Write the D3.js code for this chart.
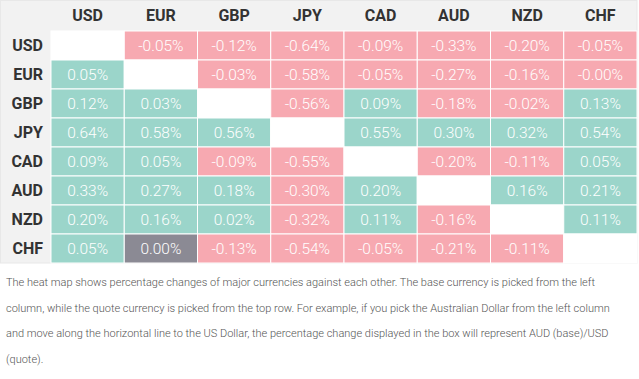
<!DOCTYPE html>
<html>
<head>
<meta charset="utf-8">
<script src="https://cdn.jsdelivr.net/npm/d3@7"></script>
<style>
  body { margin: 0; background: #fff; }
  #note { position: absolute; left: 6px; top: 270px; width: 618px;
    font-family: Roboto, sans-serif; font-weight: 300; font-size: 11px;
    line-height: 25.5px; color: #555; }
</style>
</head>
<body>
<div id="heatmap"></div>
<div id="note">The heat map shows percentage changes of major currencies against each other. The base currency is picked from the left column, while the quote currency is picked from the top row. For example, if you pick the Australian Dollar from the left column and move along the horizontal line to the US Dollar, the percentage change displayed in the box will represent AUD (base)/USD (quote).</div>
<script>
var currencies = ["USD", "EUR", "GBP", "JPY", "CAD", "AUD", "NZD", "CHF"];

// rows = base, columns = quote, null on the diagonal
var values = [
  [null, -0.05, -0.12, -0.64, -0.09, -0.33, -0.20, -0.05],
  [0.05, null, -0.03, -0.58, -0.05, -0.27, -0.16, -0.00],
  [0.12, 0.03, null, -0.56, 0.09, -0.18, -0.02, 0.13],
  [0.64, 0.58, 0.56, null, 0.55, 0.30, 0.32, 0.54],
  [0.09, 0.05, -0.09, -0.55, null, -0.20, -0.11, 0.05],
  [0.33, 0.27, 0.18, -0.30, 0.20, null, 0.16, 0.21],
  [0.20, 0.16, 0.02, -0.32, 0.11, -0.16, null, 0.11],
  [0.05, 0.00, -0.13, -0.54, -0.05, -0.21, -0.11, null]
];
// labels as shown (keeps the "-0.00%" sign)
var labels = [
  ["", "-0.05%", "-0.12%", "-0.64%", "-0.09%", "-0.33%", "-0.20%", "-0.05%"],
  ["0.05%", "", "-0.03%", "-0.58%", "-0.05%", "-0.27%", "-0.16%", "-0.00%"],
  ["0.12%", "0.03%", "", "-0.56%", "0.09%", "-0.18%", "-0.02%", "0.13%"],
  ["0.64%", "0.58%", "0.56%", "", "0.55%", "0.30%", "0.32%", "0.54%"],
  ["0.09%", "0.05%", "-0.09%", "-0.55%", "", "-0.20%", "-0.11%", "0.05%"],
  ["0.33%", "0.27%", "0.18%", "-0.30%", "0.20%", "", "0.16%", "0.21%"],
  ["0.20%", "0.16%", "0.02%", "-0.32%", "0.11%", "-0.16%", "", "0.11%"],
  ["0.05%", "0.00%", "-0.13%", "-0.54%", "-0.05%", "-0.21%", "-0.11%", ""]
];

var width = 639, height = 264;
var marginLeft = 51, marginTop = 31, gridRight = 637, rowH = 29;

var svg = d3.select("#heatmap").append("svg")
  .attr("width", width).attr("height", height)
  .style("display", "block");

var x = d3.scaleBand().domain(currencies).range([marginLeft, gridRight]);
var y = d3.scaleBand().domain(currencies).range([marginTop, marginTop + currencies.length * rowH]);

// header and left column background
svg.append("rect").attr("x", 0.5).attr("y", 0.5)
  .attr("width", gridRight - 0.5).attr("height", y.range()[1] - 0.5)
  .attr("fill", "#f2f2f2").attr("stroke", "#e8e8e8");

var cells = [];
values.forEach(function(row, i) {
  row.forEach(function(v, j) {
    cells.push({ base: currencies[i], quote: currencies[j], v: v, label: labels[i][j] });
  });
});

function color(d) {
  if (d.v === null) return "#ffffff";
  if (d.label === "0.00%") return "#8b8a94";
  return d.label.charAt(0) === "-" ? "#f7a9b1" : "#9bd5ca";
}

var g = svg.selectAll("g.cell").data(cells).enter().append("g").attr("class", "cell");
g.append("rect")
  .attr("x", function(d) { return x(d.quote); })
  .attr("y", function(d) { return y(d.base); })
  .attr("width", x.bandwidth())
  .attr("height", y.bandwidth())
  .attr("fill", color)
  .attr("stroke", "#ffffff").attr("stroke-width", 1);
g.append("text")
  .attr("x", function(d) { return x(d.quote) + x.bandwidth() / 2; })
  .attr("y", function(d) { return y(d.base) + y.bandwidth() / 2; })
  .attr("text-anchor", "middle").attr("dy", "0.36em")
  .style("font-family", "Roboto, sans-serif").style("font-weight", 300)
  .style("font-size", "15.5px").attr("fill", "#ffffff")
  .text(function(d) { return d.label; });

// column headers
svg.selectAll("text.col").data(currencies).enter().append("text")
  .attr("class", "col")
  .attr("x", function(d) { return x(d) + x.bandwidth() / 2; })
  .attr("y", marginTop / 2).attr("dy", "0.36em")
  .attr("text-anchor", "middle")
  .style("font-family", "Roboto, sans-serif").style("font-weight", 700)
  .style("font-size", "16px").attr("fill", "#333")
  .text(function(d) { return d; });

// row headers
svg.selectAll("text.row").data(currencies).enter().append("text")
  .attr("class", "row")
  .attr("x", marginLeft - 8)
  .attr("y", function(d) { return y(d) + y.bandwidth() / 2; }).attr("dy", "0.36em")
  .attr("text-anchor", "end")
  .style("font-family", "Roboto, sans-serif").style("font-weight", 700)
  .style("font-size", "16px").attr("fill", "#333")
  .text(function(d) { return d; });
</script>
</body>
</html>
